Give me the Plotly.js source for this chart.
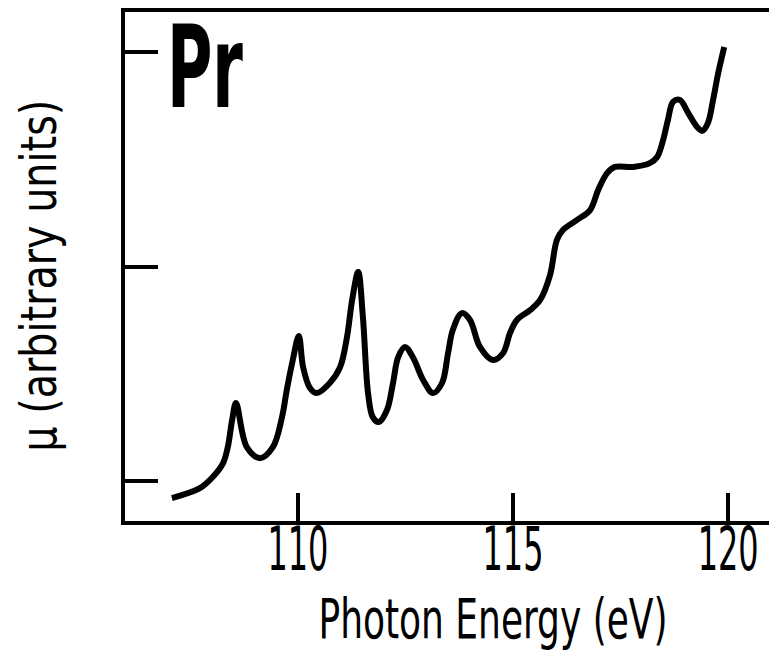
<!DOCTYPE html>
<html>
<head>
<meta charset="utf-8">
<script src="https://cdn.plot.ly/plotly-3.0.1.min.js"></script>
<style>html,body{margin:0;padding:0;background:#fff;}#chart{width:772px;height:651px;}</style>
</head>
<body>
<div id="chart"></div>
<script>
// Photon energy (eV)
const energy = [107.07,107.72,108.02,108.26,108.37,108.47,108.56,108.81,109.12,109.42,109.63,109.74,109.88,110.02,110.12,110.28,110.44,110.74,110.98,111.14,111.26,111.40,111.51,111.63,111.74,111.88,112.07,112.21,112.33,112.49,112.67,112.91,113.14,113.35,113.49,113.60,113.81,114.00,114.23,114.53,114.77,114.93,115.09,115.40,115.63,115.86,116.02,116.16,116.49,116.79,116.98,117.19,117.37,117.79,118.19,118.35,118.49,118.60,118.72,118.88,119.07,119.28,119.40,119.53,119.65,119.77,119.91];
// Absorption coefficient mu (arbitrary units)
const mu = [-0.079,-0.033,0.019,0.084,0.159,0.284,0.364,0.159,0.107,0.159,0.298,0.424,0.564,0.676,0.531,0.434,0.410,0.457,0.531,0.671,0.844,0.974,0.765,0.410,0.298,0.275,0.331,0.457,0.578,0.625,0.578,0.471,0.410,0.457,0.597,0.704,0.783,0.751,0.625,0.564,0.597,0.690,0.751,0.797,0.844,0.960,1.124,1.170,1.217,1.263,1.357,1.436,1.464,1.464,1.483,1.510,1.590,1.683,1.767,1.776,1.716,1.650,1.632,1.669,1.776,1.902,2.023];
const xTickVals = [110, 115, 120];
const xTickText = ['110', '115', '120'];
const yTickVals = [0, 1, 2];
const xTitle = 'Photon Energy (eV)';
const yTitle = 'μ (arbitrary units)';
const elementLabel = 'Pr';

const FONT = 'DejaVu Sans Condensed, Liberation Sans Narrow, sans-serif';

const trace = {
  x: energy, y: mu, type: 'scatter', mode: 'lines',
  line: {color: '#000', width: 6, shape: 'spline', smoothing: 1},
  hoverinfo: 'skip'
};

const layout = {
  width: 772, height: 651,
  margin: {l: 125, r: 3, t: 12, b: 130},
  paper_bgcolor: '#fff', plot_bgcolor: '#fff',
  showlegend: false,
  font: {family: FONT, color: '#000'},
  xaxis: {
    range: [105.98, 120.95],
    tickvals: xTickVals, ticktext: xTickText,
    ticks: 'inside', ticklen: 28, tickwidth: 4, tickcolor: '#000',
    ticklabelstandoff: -27, ticklabeloverflow: 'allow',
    showline: true, linecolor: '#000', linewidth: 4, mirror: true,
    showgrid: false, zeroline: false,
    tickfont: {family: FONT, size: 60, color: '#000'},
    title: {text: xTitle, font: {family: FONT, size: 55, color: '#000'}, standoff: 18},
    automargin: false
  },
  yaxis: {
    range: [-0.186, 2.186],
    tickvals: yTickVals,
    showticklabels: false,
    ticks: 'inside', ticklen: 33, tickwidth: 4, tickcolor: '#000',
    showline: true, linecolor: '#000', linewidth: 4,
    showgrid: false, zeroline: false,
    automargin: false
  },
  annotations: [
    {
      text: elementLabel, xref: 'paper', yref: 'paper', x: 0.1242, y: 0.890,
      xanchor: 'center', yanchor: 'middle', showarrow: false,
      font: {family: FONT, size: 114, color: '#000', weight: 'bold'}
    },
    {
      text: yTitle, xref: 'paper', yref: 'paper', x: -0.1335, y: 0.4813,
      xanchor: 'center', yanchor: 'middle', showarrow: false, textangle: -90,
      font: {family: FONT, size: 50, color: '#000'}
    }
  ]
};

function squeeze(el, target) {
  const w = el.getComputedTextLength();
  if (w > 0) {
    el.setAttribute('textLength', target);
    el.setAttribute('lengthAdjust', 'spacingAndGlyphs');
  }
}

Plotly.newPlot('chart', [trace], layout, {displayModeBar: false, staticPlot: true}).then(function (gd) {
  gd.querySelectorAll('.xtick text').forEach(function (t) { squeeze(t, 61); });
  gd.querySelectorAll('text').forEach(function (t) {
    const s = t.textContent;
    if (s === xTitle) {
      squeeze(t, 349);
      t.setAttribute('x', parseFloat(t.getAttribute('x')) + 46);
    } else if (s === yTitle) squeeze(t, 352);
    else if (s === elementLabel) squeeze(t, 76);
  });
});
</script>
</body>
</html>
